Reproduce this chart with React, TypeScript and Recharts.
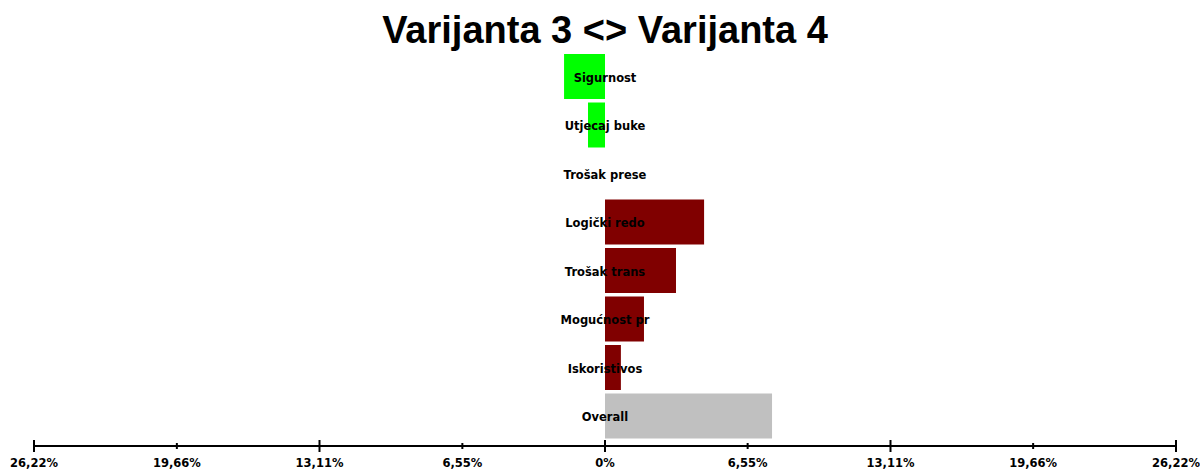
import React from 'react';
import { BarChart, Bar, XAxis, YAxis, Cell, LabelList } from 'recharts';

const categories = ['Sigurnost', 'Utjecaj buke', 'Trošak prese', 'Logički redo', 'Trošak trans', 'Mogućnost pr', 'Iskoristivos', 'Overall'];
const values = [-1.88, -0.78, 0, 4.55, 3.26, 1.79, 0.73, 7.67];
const axisTicks = [-26.22, -19.66, -13.11, -6.55, 0, 6.55, 13.11, 19.66, 26.22];
const majorTicks = [-26.22, -13.11, 0, 13.11, 26.22];

const data = categories.map((name, i) => ({ name, value: values[i] }));

const barColor = (name: string, v: number) => {
  if (name === 'Overall') return '#c0c0c0';
  if (v === 0) return 'transparent';
  return v < 0 ? '#00ff00' : '#800000';
};

const fmt = (v: number) => (v === 0 ? '0%' : Math.abs(v).toFixed(2).replace('.', ',') + '%');

const FONT = 'DejaVu Sans, Verdana, sans-serif';

const AxisTick = ({ x, y, payload }: any) => {
  const major = majorTicks.includes(payload.value);
  const h = major ? 6 : 3;
  return (
    <g>
      <line x1={x} x2={x} y1={y - h} y2={y + h} stroke="#000" strokeWidth={2} />
      <text x={x} y={y + 21} textAnchor="middle" fontFamily={FONT} fontWeight="bold" fontSize={11.5} fill="#000">
        {fmt(payload.value)}
      </text>
    </g>
  );
};

const CenterLabel = (props: any) => {
  const { x, y, width, height, value } = props;
  const zero = width > 0 && data.find((d) => d.name === value)!.value < 0 ? x + width : x;
  return (
    <text x={zero} y={y + height / 2 + 5} textAnchor="middle" fontFamily={FONT} fontWeight="bold" fontSize={11.5} fill="#000">
      {value}
    </text>
  );
};

export default function App() {
  return (
    <div style={{ position: 'absolute', left: 0, top: 0, width: 1200, height: 471, background: '#fff' }}>
      <div
        style={{
          position: 'absolute',
          top: 8,
          left: 0,
          width: 1210,
          textAlign: 'center',
          fontFamily: 'Liberation Sans, Arial, sans-serif',
          fontWeight: 'bold',
          fontSize: 38,
          lineHeight: '44px',
          color: '#000',
        }}
      >
        Varijanta 3 &lt;&gt; Varijanta 4
      </div>
      <BarChart
        width={1200}
        height={471}
        data={data}
        layout="vertical"
        margin={{ top: 52, right: 24, bottom: 0, left: 34 }}
        barCategoryGap={2}
      >
        <XAxis
          type="number"
          domain={[-26.22, 26.22]}
          ticks={axisTicks}
          interval={0}
          tick={<AxisTick />}
          tickLine={false}
          tickSize={0}
          tickMargin={0}
          axisLine={{ stroke: '#000', strokeWidth: 2 }}
          height={25}
          allowDataOverflow
        />
        <YAxis type="category" dataKey="name" hide padding={{ top: 0, bottom: 6 }} />
        <Bar dataKey="value" isAnimationActive={false} minPointSize={0.5}>
          {data.map((d) => (
            <Cell key={d.name} fill={barColor(d.name, d.value)} />
          ))}
          <LabelList dataKey="name" content={<CenterLabel />} />
        </Bar>
      </BarChart>
    </div>
  );
}
